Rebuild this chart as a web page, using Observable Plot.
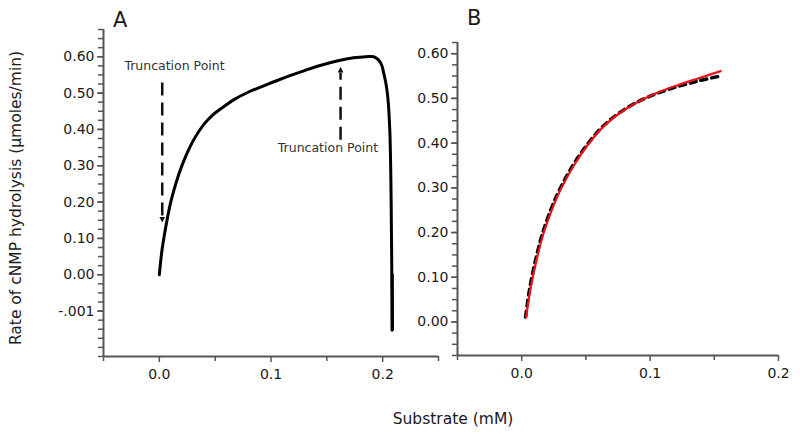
<!DOCTYPE html>
<html><head><meta charset="utf-8">
<script src="https://cdn.jsdelivr.net/npm/d3@7"></script>
<script src="https://cdn.jsdelivr.net/npm/@observablehq/plot@0.6"></script>
<style>
body{margin:0;background:#fff;}
#wrap{position:relative;width:800px;height:441px;font-family:"DejaVu Sans",sans-serif;color:#1a1a1a;overflow:hidden;}
#wrap svg{position:absolute;left:0;top:0;}
.lbl{position:absolute;white-space:nowrap;line-height:1;}
</style></head><body>
<div id="wrap"></div>
<script>
// ---------- Panel A data ----------
const curveAx = [0, 0.0023, 0.0050, 0.0075, 0.0100, 0.0130, 0.0160, 0.0190, 0.0220, 0.0260, 0.0300, 0.0350, 0.0410, 0.0480, 0.0570, 0.0680, 0.0800, 0.0930, 0.1050, 0.1170, 0.1300, 0.1440, 0.1600, 0.1740, 0.1850, 0.1920, 0.1960, 0.1990, 0.2010, 0.2030, 0.2046, 0.2064, 0.2074, 0.2079, 0.2082, 0.2084];
const curveAy = [0, 0.066, 0.118, 0.160, 0.197, 0.232, 0.263, 0.290, 0.314, 0.342, 0.367, 0.393, 0.418, 0.440, 0.461, 0.484, 0.503, 0.519, 0.534, 0.548, 0.562, 0.576, 0.589, 0.597, 0.600, 0.600, 0.592, 0.578, 0.554, 0.525, 0.489, 0.397, 0.250, 0.100, 0.000, -0.153];
// thick overlapping trace at the bottom of the drop
const tailAx = [0.2086, 0.2088];
const tailAy = [0.000, -0.150];
const arrowX   = [0.0026, 0.1623];
const arrowY1  = [0.528, 0.370];
const arrowY2  = [0.160, 0.555];
const arrowTip = [0.153, 0.563];
const arrowDir = ["down", "up"];
const noteX    = [0.0136, 0.151];
const noteY    = [0.574, 0.348];
const noteText = ["Truncation Point", "Truncation Point"];
const yTicksA  = [-0.1, 0, 0.1, 0.2, 0.3, 0.4, 0.5, 0.6];
const yLabelsA = ["-.001", "0.00", "0.10", "0.20", "0.30", "0.40", "0.50", "0.60"];
const xTicksA  = [0, 0.1, 0.2];
const xLabelsA = ["0.0", "0.1", "0.2"];
const xMinorA  = [-0.05, 0.05, 0.15, 0.25];

// ---------- Panel B data ----------
const redBx   = [0.0035, 0.0069, 0.0121, 0.0172, 0.0250, 0.0297, 0.0406, 0.0510, 0.0640, 0.0820, 0.1003, 0.1210, 0.1390, 0.1550];
const redBy   = [0.011, 0.075, 0.145, 0.200, 0.262, 0.293, 0.350, 0.394, 0.438, 0.478, 0.506, 0.529, 0.546, 0.561];
const blackBx = [0.0030, 0.0062, 0.0113, 0.0164, 0.0242, 0.0290, 0.0398, 0.0503, 0.0634, 0.0815, 0.1000, 0.1210, 0.1390, 0.1550];
const blackBy = [0.011, 0.075, 0.145, 0.200, 0.262, 0.293, 0.350, 0.394, 0.438, 0.478, 0.505, 0.526, 0.540, 0.550];
const yTicksB  = [0, 0.1, 0.2, 0.3, 0.4, 0.5, 0.6];
const yLabelsB = ["0.00", "0.10", "0.20", "0.30", "0.40", "0.50", "0.60"];
const xTicksB  = [0, 0.1, 0.2];
const xLabelsB = ["0.0", "0.1", "0.2"];
const xMinorB  = [-0.05, 0.05, 0.15];

// ---------- build ----------
const dataA = curveAx.map((x, i) => ({x, y: curveAy[i]}));
const tailA = tailAx.map((x, i) => ({x, y: tailAy[i]}));
const arrows = arrowX.map((x, i) => ({x, y1: arrowY1[i], y2: arrowY2[i], tip: arrowTip[i], dir: arrowDir[i]}));
const notes = noteX.map((x, i) => ({x, y: noteY[i], t: noteText[i]}));
const redB = redBx.map((x, i) => ({x, y: redBy[i]}));
const blackB = blackBx.map((x, i) => ({x, y: blackBy[i]}));

const minorRange = (a, b, step) => d3.range(Math.round(a / step), Math.round(b / step) + 1).map(k => +(k * step).toFixed(4));

const triDown = {draw(ctx, size) { const s = Math.sqrt(size); ctx.moveTo(0, s * 0.6); ctx.lineTo(-s * 0.5, -s * 0.4); ctx.lineTo(s * 0.5, -s * 0.4); ctx.closePath(); }};
const triUp = {draw(ctx, size) { const s = Math.sqrt(size); ctx.moveTo(0, -s * 0.6); ctx.lineTo(-s * 0.5, s * 0.4); ctx.lineTo(s * 0.5, s * 0.4); ctx.closePath(); }};

const AX = "#555";
const common = {
  width: 800, height: 441,
  style: {background: "transparent", fontFamily: "DejaVu Sans, sans-serif", fontSize: "14px", color: "#1a1a1a", overflow: "visible"}
};

function axes(xDom, yDom, yT, yL, xT, xL, xMin) {
  const yMap = new Map(yT.map((v, i) => [v, yL[i]]));
  const xMap = new Map(xT.map((v, i) => [v, xL[i]]));
  return [
    Plot.ruleX([xDom[0]], {stroke: AX, strokeWidth: 2}),
    Plot.ruleY([yDom[0]], {stroke: AX, strokeWidth: 2}),
    Plot.axisY(minorRange(yDom[0], yDom[1], 0.025), {tickSize: 5, stroke: AX, strokeWidth: 1.5, tickFormat: () => ""}),
    Plot.axisY(yT, {tickSize: 6, tickPadding: 3, stroke: AX, strokeWidth: 1.5, tickFormat: d => yMap.get(d), fontSize: 14}),
    Plot.axisX(xMin, {tickSize: 5, stroke: AX, strokeWidth: 1.5, tickFormat: () => ""}),
    Plot.axisX(xT, {tickSize: 6, tickPadding: 7, stroke: AX, strokeWidth: 1.5, tickFormat: d => xMap.get(d), fontSize: 14})
  ];
}

const plotA = Plot.plot({
  ...common,
  marginLeft: 103, marginRight: 362, marginTop: 29, marginBottom: 85,
  x: {domain: [-0.05, 0.25], label: null},
  y: {domain: [-0.225, 0.675], label: null},
  marks: [
    ...axes([-0.05, 0.25], [-0.225, 0.675], yTicksA, yLabelsA, xTicksA, xLabelsA, xMinorA),
    Plot.line(dataA, {x: "x", y: "y", stroke: "#000", strokeWidth: 3, curve: "catmull-rom", strokeLinejoin: "round", strokeLinecap: "round"}),
    Plot.line(tailA, {x: "x", y: "y", stroke: "#000", strokeWidth: 3, strokeLinecap: "round"}),
    Plot.ruleX(arrows, {x: "x", y1: "y1", y2: "y2", stroke: "#111", strokeWidth: 2.5, strokeDasharray: "13,7"}),
    Plot.dot(arrows.filter(d => d.dir === "down"), {x: "x", y: "tip", symbol: triDown, r: 3.2, fill: "#111", stroke: "none"}),
    Plot.dot(arrows.filter(d => d.dir === "up"), {x: "x", y: "tip", symbol: triUp, r: 3.2, fill: "#111", stroke: "none"}),
    Plot.text(notes, {x: "x", y: "y", text: "t", fontSize: 12.5, fill: "#333"})
  ]
});

const plotB = Plot.plot({
  ...common,
  marginLeft: 457, marginRight: 22, marginTop: 42, marginBottom: 86,
  x: {domain: [-0.05, 0.2], label: null},
  y: {domain: [-0.075, 0.625], label: null},
  marks: [
    ...axes([-0.05, 0.2], [-0.075, 0.625], yTicksB, yLabelsB, xTicksB, xLabelsB, xMinorB),
    Plot.line(blackB, {x: "x", y: "y", stroke: "#000", strokeWidth: 3.4, strokeDasharray: "6,5", curve: "catmull-rom"}),
    Plot.line(redB, {x: "x", y: "y", stroke: "#e8141b", strokeWidth: 2.2, strokeLinecap: "round", curve: "catmull-rom"})
  ]
});

const wrap = document.getElementById("wrap");
wrap.appendChild(plotA);
wrap.appendChild(plotB);

function label(text, css) {
  const d = document.createElement("div");
  d.className = "lbl";
  d.textContent = text;
  Object.assign(d.style, css);
  wrap.appendChild(d);
}
label("A", {left: "113px", top: "10px", fontSize: "21px"});
label("B", {left: "467px", top: "8px", fontSize: "21px"});
label("Substrate (mM)", {left: "453px", top: "420px", fontSize: "15.5px", transform: "translate(-50%,-50%)"});
label("Rate of cNMP hydrolysis (µmoles/min)", {left: "17px", top: "198px", fontSize: "15.5px", transform: "translate(-50%,-50%) rotate(-90deg)"});
</script>
</body></html>
